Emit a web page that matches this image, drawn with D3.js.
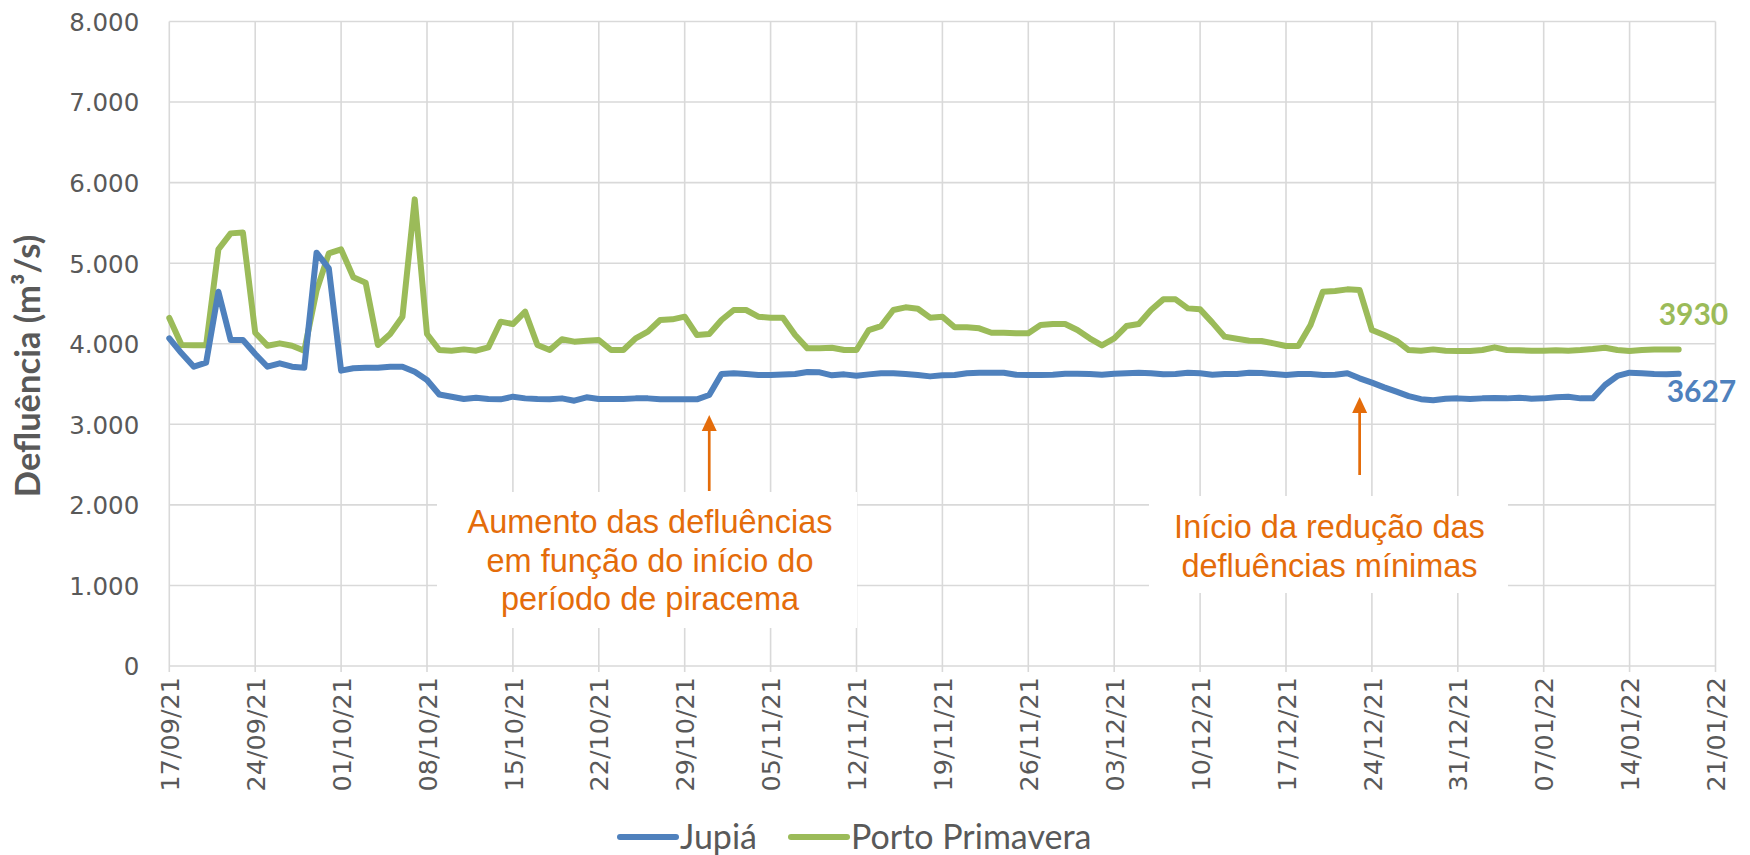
<!DOCTYPE html>
<html><head><meta charset="utf-8">
<script src="https://cdn.jsdelivr.net/npm/d3@7"></script>
<style>body{margin:0;background:#fff;overflow:hidden}</style>
</head><body>
<svg id="c" width="1750" height="855"></svg>
<script>
// ---------------- data ----------------
const startDate = "2021-09-17";      // first daily value
const axisEndDate = "2022-01-21";    // last category-axis tick
const tickStepDays = 7;
const yTicks = [0, 1000, 2000, 3000, 4000, 5000, 6000, 7000, 8000];
const seriesNames = ["Jupiá", "Porto Primavera"];
const jupia = [
4067,3881,3715,3765,4646,4046,4046,3873,3715,3757,3715,3703,5130,4936,3666,3695,3703,3703,3715,3715,
3653,3550,3370,3343,3314,3331,3314,3310,3343,3322,3314,3310,3322,3293,3335,3314,3314,3314,3322,3322,
3310,3310,3310,3310,3364,3624,3633,3624,3612,3612,3618,3624,3649,3645,3608,3620,3604,3620,3633,3633,
3624,3612,3595,3608,3612,3633,3641,3641,3641,3616,3612,3612,3616,3628,3628,3624,3614,3628,3633,3641,
3633,3620,3624,3641,3633,3616,3624,3624,3641,3637,3624,3612,3624,3624,3612,3616,3633,3571,3517,3459,
3405,3350,3312,3298,3318,3322,3314,3322,3326,3322,3331,3318,3322,3335,3343,3322,3322,3488,3600,3641,
3633,3624,3620,3627];
const portoPrimavera = [
4320,3984,3980,3980,5172,5370,5380,4137,3976,4005,3976,3914,4660,5122,5172,4824,4758,3984,4121,4336,
5792,4121,3922,3914,3930,3914,3955,4274,4245,4398,3984,3922,4055,4026,4038,4046,3922,3922,4067,4150,
4295,4303,4336,4108,4121,4295,4419,4419,4336,4324,4324,4108,3943,3943,3951,3922,3922,4170,4220,4419,
4452,4435,4324,4336,4204,4204,4191,4137,4137,4129,4129,4232,4245,4245,4170,4067,3980,4067,4220,4245,
4419,4551,4551,4439,4427,4262,4088,4063,4038,4034,4005,3972,3972,4232,4646,4655,4675,4667,4170,4108,
4038,3922,3912,3930,3914,3910,3910,3922,3955,3922,3918,3914,3914,3918,3914,3922,3934,3951,3922,3910,
3922,3930,3930,3930];
const yTitle = "Defluência (m³/s)";
const note1Lines = ["Aumento das defluências", "em função do início do", "período de piracema"];
const note1Date = "2021-10-31";
const note2Lines = ["Início da redução das", "defluências mínimas"];
const note2Date = "2021-12-23";

// ---------------- layout ----------------
const W = 1750, H = 855;
const plot = {left: 169.3, right: 1715.5, top: 21.5, bottom: 666};
const colBlue = "#4F81BD", colGreen = "#9BBB59", colGrid = "#D9D9D9",
      colText = "#595959", colNote = "#E46C0A";

const parse = d3.utcParse("%Y-%m-%d");
const t0 = parse(startDate), tEnd = parse(axisEndDate);
const dates = jupia.map((_, i) => d3.utcDay.offset(t0, i));

const x = d3.scaleUtc().domain([t0, tEnd]).range([plot.left, plot.right]);
const y = d3.scaleLinear().domain([0, 8000]).range([plot.bottom, plot.top]);

const svg = d3.select("#c");
svg.append("rect").attr("width", W).attr("height", H).attr("fill", "#fff");

const xTickDates = d3.utcDay.range(t0, d3.utcDay.offset(tEnd, 1), tickStepDays);
const fmtDate = d3.utcFormat("%d/%m/%y");
const fmtY = v => d3.format(",")(v).replace(/,/g, ".");

// gridlines
const grid = svg.append("g").attr("stroke", colGrid).attr("stroke-width", 1.6);
grid.selectAll(".h").data(yTicks).join("line")
  .attr("x1", plot.left).attr("x2", plot.right)
  .attr("y1", d => y(d)).attr("y2", d => y(d));
grid.selectAll(".v").data(xTickDates).join("line")
  .attr("x1", d => x(d)).attr("x2", d => x(d))
  .attr("y1", plot.top).attr("y2", plot.bottom + 6);

// y axis labels
const yAxis = d3.axisLeft(y).tickValues(yTicks).tickFormat(fmtY).tickSize(0).tickPadding(30);
const gy = svg.append("g").attr("transform", `translate(${plot.left},0)`).call(yAxis);
gy.select(".domain").remove();
gy.selectAll("text").attr("fill", colText).attr("font-family", "DejaVu Sans")
  .attr("font-size", 24.5).attr("dy", "0.36em");

// x axis labels
const xAxis = d3.axisBottom(x).tickValues(xTickDates).tickFormat(fmtDate).tickSize(0);
const gx = svg.append("g").attr("transform", `translate(0,${plot.bottom})`).call(xAxis);
gx.select(".domain").remove();
gx.selectAll("text").attr("fill", colText).attr("font-family", "DejaVu Sans")
  .attr("font-size", 25.5).attr("text-anchor", "end")
  .attr("transform", "translate(0,11) rotate(-90)")
  .attr("x", 0).attr("y", 0).attr("dy", "0.36em");

// y title
svg.append("text").attr("transform", "translate(40,366) rotate(-90)")
  .attr("text-anchor", "middle").attr("font-family", "Lato").attr("font-weight", "bold")
  .attr("font-size", 34.5).attr("fill", colText).text(yTitle);

// annotation boxes (white, covering gridlines)
function note(lines, date, box, cx, baseline0, lineGap, arrowTop, arrowBottom) {
  svg.append("rect").attr("x", box[0]).attr("y", box[1])
    .attr("width", box[2] - box[0]).attr("height", box[3] - box[1]).attr("fill", "#fff");
  const ax = x(parse(date));
  svg.append("line").attr("x1", ax).attr("x2", ax)
    .attr("y1", arrowBottom).attr("y2", arrowTop + 14)
    .attr("stroke", colNote).attr("stroke-width", 2.7);
  svg.append("path")
    .attr("d", `M${ax},${arrowTop} L${ax + 7.5},${arrowTop + 16} L${ax - 7.5},${arrowTop + 16} Z`)
    .attr("fill", colNote);
  const t = svg.append("text").attr("font-family", "Liberation Sans")
    .attr("font-size", 32.5).attr("fill", colNote).attr("text-anchor", "middle");
  lines.forEach((l, i) => t.append("tspan").attr("x", cx).attr("y", baseline0 + i * lineGap).text(l));
}
note(note1Lines, note1Date, [437, 492, 857, 628], 650, 533, 38.5, 415, 491);
note(note2Lines, note2Date, [1149, 496, 1508, 593], 1329.5, 538, 38.5, 397, 475);

// series lines
const line = d3.line().x((d, i) => x(dates[i])).y(d => y(d));
[[portoPrimavera, colGreen], [jupia, colBlue]].forEach(([vals, col]) => {
  svg.append("path").datum(vals).attr("d", line).attr("fill", "none")
    .attr("stroke", col).attr("stroke-width", 6)
    .attr("stroke-linejoin", "round").attr("stroke-linecap", "round");
});

// end labels
const lastI = jupia.length - 1;
svg.append("text").attr("x", x(dates[lastI]) - 20).attr("y", 325)
  .attr("font-family", "Lato").attr("font-weight", "bold").attr("font-size", 30)
  .attr("fill", colGreen).text(portoPrimavera[lastI]);
svg.append("text").attr("x", x(dates[lastI]) - 12).attr("y", 402)
  .attr("font-family", "Lato").attr("font-weight", "bold").attr("font-size", 30)
  .attr("fill", colBlue).text(jupia[lastI]);

// legend
const legend = [{name: seriesNames[0], col: colBlue, x: 620}, {name: seriesNames[1], col: colGreen, x: 791}];
const lg = svg.append("g");
legend.forEach(d => {
  lg.append("line").attr("x1", d.x).attr("x2", d.x + 56).attr("y1", 837).attr("y2", 837)
    .attr("stroke", d.col).attr("stroke-width", 6).attr("stroke-linecap", "round");
  lg.append("text").attr("x", d.x + 60).attr("y", 837).attr("dy", "0.35em")
    .attr("font-family", "Lato").attr("font-size", 34).attr("fill", colText).text(d.name);
});
</script>
</body></html>
